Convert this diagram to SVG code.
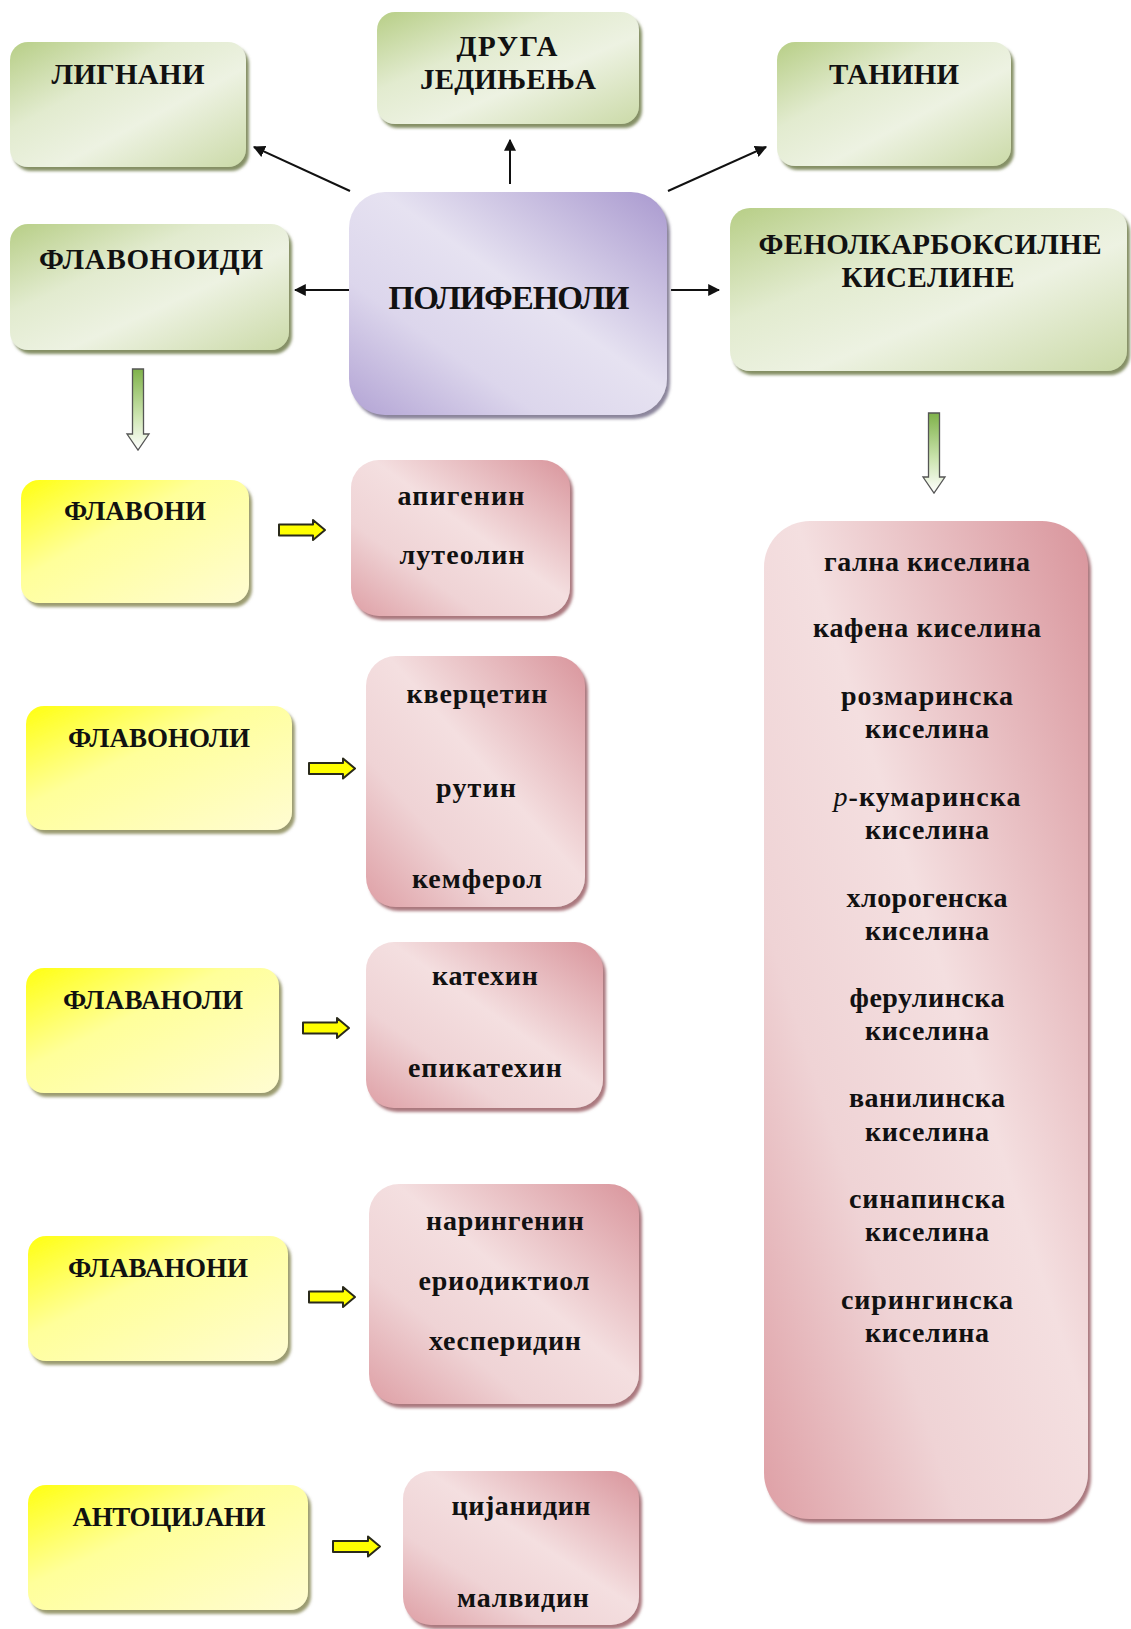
<svg xmlns="http://www.w3.org/2000/svg" width="1131" height="1629" viewBox="0 0 1131 1629">
<style>
text{font-family:"Liberation Serif","Times New Roman",serif;font-weight:bold;fill:#111;text-anchor:middle}
.h{font-size:29px}
.hs{font-size:27px}
.l{font-size:28px}
.green{fill:url(#gG);filter:url(#shG)}
.purple{fill:url(#gP);filter:url(#shP)}
.yellow{fill:url(#gY);filter:url(#shY)}
.pink{fill:url(#gK);filter:url(#shK)}
.thin{stroke:#111;stroke-width:2;fill:none;marker-end:url(#ah)}
.garr{fill:url(#gA);stroke:#555;stroke-width:1.3}
.yarr{fill:#ffff00;stroke:#2a2a1a;stroke-width:2;stroke-linejoin:round}
</style>
<defs>
<linearGradient id="gG" x1="0" y1="0" x2="1" y2="1">
<stop offset="0" stop-color="#b7ce86"/><stop offset="0.35" stop-color="#e2ebcf"/><stop offset="0.6" stop-color="#edf2e2"/><stop offset="1" stop-color="#cbdaa8"/>
</linearGradient>
<linearGradient id="gP" x1="1" y1="0" x2="0" y2="1">
<stop offset="0" stop-color="#a999cf"/><stop offset="0.45" stop-color="#e6e2f1"/><stop offset="0.7" stop-color="#dcd6ec"/><stop offset="1" stop-color="#b2a3d4"/>
</linearGradient>
<linearGradient id="gY" x1="0" y1="0" x2="1" y2="1">
<stop offset="0" stop-color="#ffff10"/><stop offset="0.4" stop-color="#ffff9a"/><stop offset="1" stop-color="#fffcd2"/>
</linearGradient>
<linearGradient id="gK" x1="1" y1="0" x2="0" y2="1">
<stop offset="0" stop-color="#d9959c"/><stop offset="0.45" stop-color="#f4dfe0"/><stop offset="0.7" stop-color="#efd3d5"/><stop offset="1" stop-color="#de9fa5"/>
</linearGradient>
<linearGradient id="gA" x1="0" y1="0" x2="0" y2="1">
<stop offset="0" stop-color="#7fb24a"/><stop offset="0.6" stop-color="#cfe6b4"/><stop offset="1" stop-color="#ffffff"/>
</linearGradient>
<filter id="shG" x="-10%" y="-10%" width="120%" height="130%"><feDropShadow dx="3" dy="4" stdDeviation="1.5" flood-color="#6f7d4c" flood-opacity="0.85"/></filter>
<filter id="shP" x="-10%" y="-10%" width="120%" height="130%"><feDropShadow dx="3" dy="4" stdDeviation="1.5" flood-color="#77708a" flood-opacity="0.85"/></filter>
<filter id="shY" x="-10%" y="-10%" width="120%" height="130%"><feDropShadow dx="3" dy="4" stdDeviation="1.5" flood-color="#8a8a58" flood-opacity="0.85"/></filter>
<filter id="shK" x="-10%" y="-10%" width="120%" height="130%"><feDropShadow dx="3" dy="4" stdDeviation="1.5" flood-color="#9c6068" flood-opacity="0.85"/></filter>
<marker id="ah" viewBox="0 0 10 10" refX="9" refY="5" markerWidth="6" markerHeight="6" orient="auto" markerUnits="strokeWidth">
<path d="M0,0 L10,5 L0,10 Z" fill="#111"/>
</marker>
</defs>
<rect width="1131" height="1629" fill="#ffffff"/>

<g id="connectors">
<line class="thin" x1="350" y1="191" x2="254" y2="147"/>
<line class="thin" x1="510" y1="184" x2="510" y2="140"/>
<line class="thin" x1="668" y1="191" x2="766" y2="147"/>
<line class="thin" x1="349" y1="290" x2="295" y2="290"/>
<line class="thin" x1="671" y1="290" x2="719" y2="290"/>
<path class="garr" d="M132.5,369 L143.5,369 L143.5,434 L149,434 L138,450 L127,434 L132.5,434 Z"/>
<path class="garr" d="M928.5,413 L939.5,413 L939.5,477 L945,477 L934,493 L923,477 L928.5,477 Z"/>
<path class="yarr" d="M279,524.5 H313 V520 L325,530 L313,540 V535.5 H279 Z"/>
<path class="yarr" d="M309,763 H343 V758.5 L355,768.5 L343,778.5 V774 H309 Z"/>
<path class="yarr" d="M303,1022.5 H337 V1018 L349,1028 L337,1038 V1033.5 H303 Z"/>
<path class="yarr" d="M309,1291.5 H343 V1287 L355,1297 L343,1307 V1302.5 H309 Z"/>
<path class="yarr" d="M333,1541 H368 V1536.5 L380,1546.5 L368,1556.5 V1552 H333 Z"/>
</g>

<g id="lignani">
<rect class="green" x="10" y="42" width="236" height="125" rx="18"/>
<text class="h" x="128" y="84" textLength="153">ЛИГНАНИ</text>
</g>
<g id="druga">
<rect class="green" x="377" y="12" width="262" height="112" rx="18"/>
<text class="h" x="507" y="56" textLength="101">ДРУГА</text>
<text class="h" x="508" y="89" textLength="176">ЈЕДИЊЕЊА</text>
</g>
<g id="tanini">
<rect class="green" x="777" y="42" width="234" height="124" rx="18"/>
<text class="h" x="894" y="84" textLength="130">ТАНИНИ</text>
</g>
<g id="flavonoidi">
<rect class="green" x="10" y="224" width="279" height="126" rx="18"/>
<text class="h" x="151" y="269" textLength="224">ФЛАВОНОИДИ</text>
</g>
<g id="polifenoli">
<rect class="purple" x="349" y="192" width="318" height="223" rx="36"/>
<text x="509" y="309" font-size="33" textLength="241">ПОЛИФЕНОЛИ</text>
</g>
<g id="fenolkarboksilne">
<rect class="green" x="730" y="208" width="397" height="163" rx="20"/>
<text class="h" x="930" y="254" textLength="343">ФЕНОЛКАРБОКСИЛНЕ</text>
<text class="h" x="928" y="287" textLength="173">КИСЕЛИНЕ</text>
</g>

<g id="flavoni">
<rect class="yellow" x="21" y="480" width="228" height="123" rx="18"/>
<text class="hs" x="135" y="520" textLength="142">ФЛАВОНИ</text>
</g>
<g id="flavonoli">
<rect class="yellow" x="26" y="706" width="266" height="124" rx="18"/>
<text class="hs" x="159" y="747" textLength="182">ФЛАВОНОЛИ</text>
</g>
<g id="flavanoli">
<rect class="yellow" x="26" y="968" width="253" height="125" rx="18"/>
<text class="hs" x="153" y="1009" textLength="180">ФЛАВАНОЛИ</text>
</g>
<g id="flavanoni">
<rect class="yellow" x="28" y="1236" width="260" height="125" rx="18"/>
<text class="hs" x="158" y="1277" textLength="180">ФЛАВАНОНИ</text>
</g>
<g id="antocijani">
<rect class="yellow" x="28" y="1485" width="280" height="125" rx="18"/>
<text class="hs" x="169" y="1526" textLength="193">АНТОЦИЈАНИ</text>
</g>

<g id="flavoni-list">
<rect class="pink" x="351" y="460" width="219" height="156" rx="28"/>
<text class="l" x="461" y="505" textLength="127">апигенин</text>
<text class="l" x="462" y="564" textLength="125">лутеолин</text>
</g>
<g id="flavonoli-list">
<rect class="pink" x="366" y="656" width="219" height="251" rx="30"/>
<text class="l" x="477" y="703" textLength="141">кверцетин</text>
<text class="l" x="476" y="797" textLength="80">рутин</text>
<text class="l" x="477" y="888" textLength="130">кемферол</text>
</g>
<g id="flavanoli-list">
<rect class="pink" x="366" y="942" width="237" height="166" rx="28"/>
<text class="l" x="485" y="985" textLength="106">катехин</text>
<text class="l" x="485" y="1077" textLength="154">епикатехин</text>
</g>
<g id="flavanoni-list">
<rect class="pink" x="369" y="1184" width="270" height="220" rx="30"/>
<text class="l" x="505" y="1230" textLength="158">нарингенин</text>
<text class="l" x="504" y="1290" textLength="171">ериодиктиол</text>
<text class="l" x="505" y="1350" textLength="152">хесперидин</text>
</g>
<g id="antocijani-list">
<rect class="pink" x="403" y="1471" width="236" height="154" rx="28"/>
<text class="l" x="521" y="1515" textLength="139">цијанидин</text>
<text class="l" x="523" y="1607" textLength="132">малвидин</text>
</g>

<g id="kiseline-list">
<rect class="pink" x="764" y="521" width="324" height="998" rx="46"/>
<text class="l" x="927" y="571" textLength="206">гална киселина</text>
<text class="l" x="927" y="637" textLength="228">кафена киселина</text>
<text class="l" x="927" y="705" textLength="172">розмаринска</text>
<text class="l" x="927" y="738" textLength="124">киселина</text>
<text class="l" x="927" y="806" textLength="187"><tspan font-style="italic" font-weight="normal">p</tspan>-кумаринска</text>
<text class="l" x="927" y="839" textLength="124">киселина</text>
<text class="l" x="927" y="907" textLength="161">хлорогенска</text>
<text class="l" x="927" y="940" textLength="124">киселина</text>
<text class="l" x="927" y="1007" textLength="155">ферулинска</text>
<text class="l" x="927" y="1040" textLength="124">киселина</text>
<text class="l" x="927" y="1107" textLength="156">ванилинска</text>
<text class="l" x="927" y="1141" textLength="124">киселина</text>
<text class="l" x="927" y="1208" textLength="156">синапинска</text>
<text class="l" x="927" y="1241" textLength="124">киселина</text>
<text class="l" x="927" y="1309" textLength="172">сирингинска</text>
<text class="l" x="927" y="1342" textLength="124">киселина</text>
</g>
</svg>
